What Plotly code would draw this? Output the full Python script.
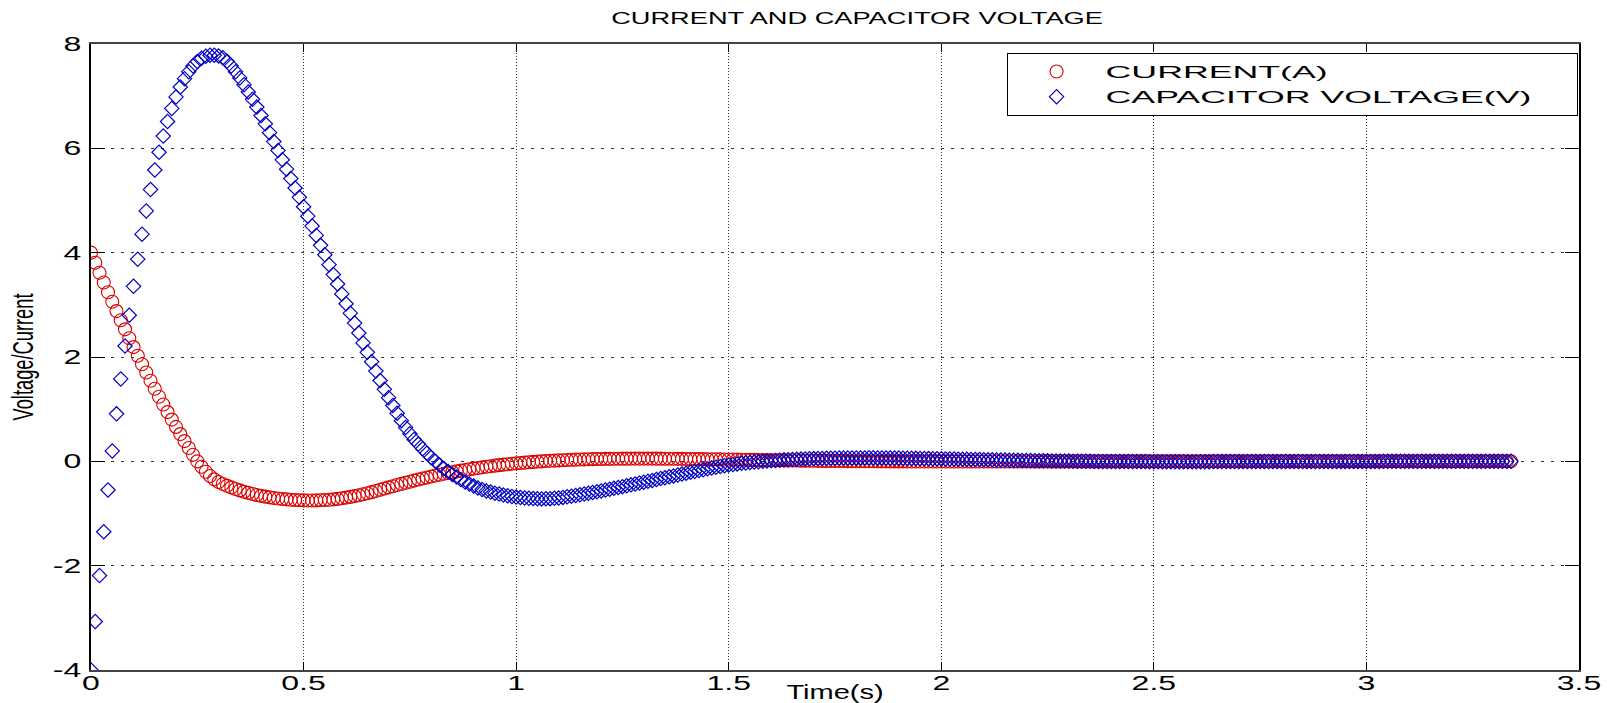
import plotly.graph_objects as go

# time axis: samples start at 0 s, spaced 0.01 s
t_start = 0.0
t_step = 0.01

current = [
    4.000, 3.806, 3.616, 3.428, 3.242, 3.060, 2.880, 2.704, 2.530, 2.358,
    2.190, 2.024, 1.862, 1.702, 1.544, 1.390, 1.238, 1.090, 0.944, 0.800,
    0.660, 0.522, 0.388, 0.256, 0.126, 0.000, -0.105, -0.200, -0.280, -0.345,
    -0.395, -0.435, -0.470, -0.500, -0.530, -0.557, -0.582, -0.605, -0.626, -0.645,
    -0.662, -0.677, -0.690, -0.702, -0.712, -0.721, -0.729, -0.736, -0.741, -0.745,
    -0.748, -0.750, -0.750, -0.749, -0.746, -0.742, -0.736, -0.729, -0.720, -0.708,
    -0.695, -0.682, -0.667, -0.650, -0.632, -0.612, -0.591, -0.568, -0.545, -0.522,
    -0.499, -0.477, -0.455, -0.433, -0.411, -0.390, -0.369, -0.349, -0.329, -0.310,
    -0.291, -0.273, -0.256, -0.239, -0.223, -0.208, -0.193, -0.179, -0.165, -0.152,
    -0.139, -0.127, -0.115, -0.104, -0.093, -0.083, -0.073, -0.064, -0.055, -0.047,
    -0.039, -0.031, -0.024, -0.017, -0.011, -0.005, 0.000, 0.005, 0.010, 0.014,
    0.018, 0.022, 0.026, 0.029, 0.032, 0.035, 0.037, 0.040, 0.042, 0.044,
    0.045, 0.047, 0.048, 0.049, 0.050, 0.051, 0.051, 0.052, 0.052, 0.052,
    0.052, 0.052, 0.052, 0.051, 0.051, 0.050, 0.050, 0.049, 0.048, 0.047,
    0.046, 0.045, 0.044, 0.043, 0.042, 0.041, 0.040, 0.039, 0.037, 0.036,
    0.035, 0.034, 0.032, 0.031, 0.030, 0.028, 0.027, 0.026, 0.024, 0.023,
    0.022, 0.021, 0.019, 0.018, 0.017, 0.016, 0.015, 0.013, 0.012, 0.011,
    0.010, 0.009, 0.008, 0.008, 0.007, 0.006, 0.005, 0.005, 0.004, 0.003,
    0.003, 0.002, 0.002, 0.001, 0.001, 0.000, 0.000, 0.000, -0.001, -0.001,
    -0.001, -0.001, -0.002, -0.002, -0.002, -0.002, -0.002, -0.002, -0.003, -0.003,
    -0.003, -0.003, -0.003, -0.003, -0.003, -0.003, -0.003, -0.003, -0.003, -0.003,
    -0.003, -0.003, -0.003, -0.002, -0.002, -0.002, -0.002, -0.002, -0.002, -0.002,
    -0.002, -0.002, -0.002, -0.001, -0.001, -0.001, -0.001, -0.001, -0.001, -0.001,
    -0.001, -0.001, -0.001, -0.001, -0.001, -0.001, -0.001, -0.001, -0.001, -0.001,
    -0.001, -0.001, -0.001, 0.000, 0.000, 0.000, 0.000, 0.000, 0.000, 0.000,
    0.000, 0.000, 0.000, 0.000, 0.000, 0.000, 0.000, 0.000, 0.000, 0.000,
    0.000, 0.000, 0.000, 0.000, 0.000, 0.000, 0.000, 0.000, 0.000, 0.000,
    0.000, 0.000, 0.000, 0.000, 0.000, 0.000, 0.000, 0.000, 0.000, 0.000,
    0.000, 0.000, 0.000, 0.000, 0.000, 0.000, 0.000, 0.000, 0.000, 0.000,
    0.000, 0.000, 0.000, 0.000, 0.000, 0.000, 0.000, 0.000, 0.000, 0.000,
    0.000, 0.000, 0.000, 0.000, 0.000, 0.000, 0.000, 0.000, 0.000, 0.000,
    0.000, 0.000, 0.000, 0.000, 0.000, 0.000, 0.000, 0.000, 0.000, 0.000,
    0.000, 0.000, 0.000, 0.000, 0.000, 0.000, 0.000, 0.000, 0.000, 0.000,
    0.000, 0.000, 0.000, 0.000, 0.000,
]

capacitor_voltage = [
    -4.000, -3.070, -2.190, -1.350, -0.550, 0.200, 0.910, 1.580, 2.210, 2.800,
    3.355, 3.875, 4.355, 4.800, 5.210, 5.585, 5.925, 6.235, 6.515, 6.765,
    6.985, 7.175, 7.335, 7.470, 7.580, 7.665, 7.725, 7.765, 7.785, 7.785,
    7.770, 7.735, 7.670, 7.580, 7.470, 7.350, 7.220, 7.080, 6.940, 6.790,
    6.630, 6.470, 6.300, 6.130, 5.960, 5.780, 5.600, 5.420, 5.240, 5.060,
    4.880, 4.700, 4.510, 4.330, 4.140, 3.960, 3.770, 3.580, 3.400, 3.210,
    3.020, 2.840, 2.650, 2.460, 2.270, 2.090, 1.910, 1.730, 1.550, 1.380,
    1.220, 1.070, 0.920, 0.780, 0.650, 0.530, 0.420, 0.330, 0.240, 0.155,
    0.075, 0.000, -0.070, -0.135, -0.195, -0.250, -0.300, -0.350, -0.395, -0.435,
    -0.475, -0.510, -0.540, -0.567, -0.590, -0.610, -0.628, -0.645, -0.660, -0.673,
    -0.684, -0.694, -0.702, -0.709, -0.714, -0.718, -0.720, -0.719, -0.715, -0.709,
    -0.701, -0.691, -0.680, -0.668, -0.655, -0.642, -0.628, -0.613, -0.598, -0.583,
    -0.567, -0.551, -0.535, -0.518, -0.501, -0.485, -0.468, -0.451, -0.435, -0.417,
    -0.401, -0.383, -0.366, -0.349, -0.331, -0.315, -0.297, -0.279, -0.263, -0.245,
    -0.228, -0.210, -0.193, -0.177, -0.160, -0.143, -0.128, -0.113, -0.099, -0.085,
    -0.072, -0.060, -0.049, -0.039, -0.031, -0.022, -0.014, -0.007, 0.000, 0.007,
    0.013, 0.018, 0.023, 0.028, 0.032, 0.037, 0.040, 0.044, 0.047, 0.050,
    0.052, 0.055, 0.056, 0.058, 0.060, 0.061, 0.062, 0.063, 0.064, 0.065,
    0.066, 0.066, 0.066, 0.067, 0.067, 0.066, 0.066, 0.065, 0.064, 0.063,
    0.062, 0.061, 0.059, 0.058, 0.057, 0.055, 0.054, 0.052, 0.051, 0.049,
    0.048, 0.046, 0.045, 0.043, 0.042, 0.040, 0.039, 0.037, 0.035, 0.034,
    0.032, 0.031, 0.029, 0.027, 0.026, 0.024, 0.023, 0.021, 0.019, 0.018,
    0.016, 0.015, 0.013, 0.012, 0.010, 0.009, 0.008, 0.007, 0.006, 0.005,
    0.004, 0.003, 0.002, 0.001, 0.001, 0.000, -0.001, -0.001, -0.002, -0.002,
    -0.003, -0.003, -0.004, -0.004, -0.004, -0.005, -0.005, -0.005, -0.005, -0.006,
    -0.006, -0.006, -0.006, -0.006, -0.006, -0.006, -0.006, -0.006, -0.006, -0.006,
    -0.006, -0.006, -0.006, -0.006, -0.005, -0.005, -0.005, -0.005, -0.005, -0.005,
    -0.005, -0.004, -0.004, -0.004, -0.004, -0.004, -0.004, -0.003, -0.003, -0.003,
    -0.003, -0.003, -0.003, -0.003, -0.002, -0.002, -0.002, -0.002, -0.002, -0.002,
    -0.002, -0.002, -0.001, -0.001, -0.001, -0.001, -0.001, -0.001, -0.001, -0.001,
    -0.001, -0.001, -0.001, -0.001, 0.000, 0.000, 0.000, 0.000, 0.000, 0.000,
    0.000, 0.000, 0.000, 0.000, 0.000, 0.000, 0.000, 0.000, 0.000, 0.000,
    0.000, 0.000, 0.000, 0.000, 0.000, 0.000, 0.000, 0.000, 0.000, 0.000,
    0.000, 0.000, 0.000, 0.000, 0.000,
]

x_ticks = [0, 0.5, 1, 1.5, 2, 2.5, 3, 3.5]
x_tick_labels = ["0", "0.5", "1", "1.5", "2", "2.5", "3", "3.5"]
y_ticks = [-4, -2, 0, 2, 4, 6, 8]
y_tick_labels = ["-4", "-2", "0", "2", "4", "6", "8"]

title_text = "CURRENT AND CAPACITOR VOLTAGE"
x_title = "Time(s)"
y_title = "Voltage/Current"
name_current = "CURRENT(A)"
name_voltage = "CAPACITOR VOLTAGE(V)"

RED = "#d80000"
BLUE = "#0000c0"
FONT = "Liberation Sans"

fig = go.Figure()
fig.add_trace(go.Scatter(
    x0=t_start, dx=t_step, y=current, mode="markers", name=name_current,
    marker=dict(symbol="circle-open", size=13, color=RED, line=dict(width=1.1, color=RED)),
))
fig.add_trace(go.Scatter(
    x0=t_start, dx=t_step, y=capacitor_voltage, mode="markers", name=name_voltage,
    marker=dict(symbol="diamond-open", size=11, color=BLUE, line=dict(width=1.2, color=BLUE)),
))

axis_common = dict(
    showline=True, mirror="ticks", ticks="inside", tickcolor="#000",
    showgrid=True, zeroline=False, tickwidth=1, automargin=False,
    tickfont=dict(family=FONT, size=20, color="#000"),
)

fig.update_xaxes(
    range=[0, 3.5], tickvals=x_ticks, ticktext=x_tick_labels,
    linecolor="#444", linewidth=1.5, ticklen=8,
    gridcolor="#333", griddash="1px,2px", gridwidth=1,
    ticklabelstandoff=-6,
    title=dict(text=x_title, font=dict(family=FONT, size=20, color="#000"), standoff=14),
    **axis_common,
)
fig.update_yaxes(
    range=[-4, 8], tickvals=y_ticks, ticktext=y_tick_labels,
    linecolor="#000", linewidth=1.5, ticklen=14,
    gridcolor="#333", griddash="3px,7px", gridwidth=1,
    ticklabelstandoff=4,
    title=dict(text=y_title, font=dict(family=FONT, size=29, color="#000"), standoff=21),
    **axis_common,
)

fig.update_layout(
    width=1607, height=703,
    margin=dict(l=91, r=28, t=44, b=33),
    paper_bgcolor="white", plot_bgcolor="white",
    title=dict(text=title_text, x=0.5148, xref="paper", y=1 - 18.5 / 703, yref="container",
               xanchor="center", yanchor="middle",
               font=dict(family=FONT, size=17, color="#000")),
    showlegend=True,
    legend=dict(
        x=0.6153, y=0.9856, xanchor="left", yanchor="top",
        bgcolor="white", bordercolor="#000", borderwidth=1,
        font=dict(family=FONT, size=17, color="#000"),
        tracegroupgap=0, itemwidth=88,
    ),
)

# The page body margin is removed so the figure sits at the window's corner, and
# the reference picture is horizontally stretched, so the rendered texts are widened.
stretch_js = """
document.body.style.margin = '0';
var gd = document.getElementById('{plot_id}');
function stretch(sel, k) {
  var maxDelta = 0;
  gd.querySelectorAll(sel).forEach(function(t) {
    var L = t.getComputedTextLength();
    if (!L) { return; }
    t.setAttribute('textLength', (L * k).toFixed(2));
    t.setAttribute('lengthAdjust', 'spacingAndGlyphs');
    maxDelta = Math.max(maxDelta, L * (k - 1));
  });
  return maxDelta;
}
stretch('text.gtitle', 1.6);
stretch('.xtick text', 1.6);
stretch('.ytick text', 1.6);
stretch('text.xtitle', 1.45);
stretch('text.ytitle', 0.63);
var d = stretch('text.legendtext', 2.1) + 40;
gd.querySelectorAll('.legend rect.bg').forEach(function(r) {
  r.setAttribute('width', parseFloat(r.getAttribute('width')) + d);
});
gd.querySelectorAll('clipPath[id^="legend"] rect').forEach(function(r) {
  r.setAttribute('width', parseFloat(r.getAttribute('width')) + d);
});
"""

fig.write_html("out.html", post_script=stretch_js, config={"displayModeBar": False})
